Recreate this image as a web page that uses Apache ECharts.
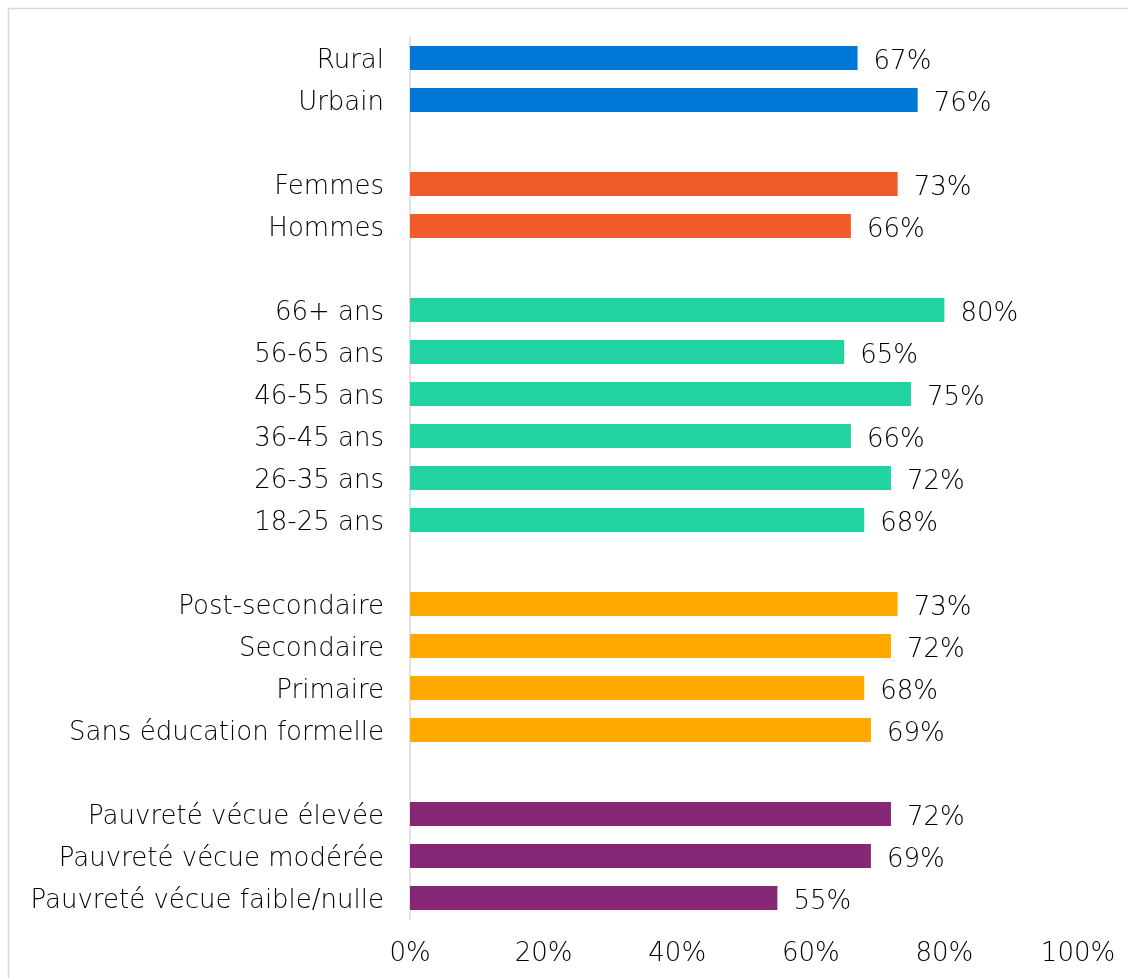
<!DOCTYPE html>
<html>
<head>
<meta charset="utf-8">
<script src="https://cdn.jsdelivr.net/npm/echarts@6/dist/echarts.min.js"></script>
<style>
  html, body { margin: 0; padding: 0; background: #fff; }
  #chart { width: 1128px; height: 978px; }
</style>
</head>
<body>
<div id="chart"></div>
<script>
// Share of respondents, by group (percent)
const milieuLabels = ['Rural', 'Urbain'];
const milieuValues = [67, 76];

const genreLabels = ['Femmes', 'Hommes'];
const genreValues = [73, 66];

const ageLabels = ['66+ ans', '56-65 ans', '46-55 ans', '36-45 ans', '26-35 ans', '18-25 ans'];
const ageValues = [80, 65, 75, 66, 72, 68];

const educationLabels = ['Post-secondaire', 'Secondaire', 'Primaire', 'Sans éducation formelle'];
const educationValues = [73, 72, 68, 69];

const pauvreteLabels = ['Pauvreté vécue élevée', 'Pauvreté vécue modérée', 'Pauvreté vécue faible/nulle'];
const pauvreteValues = [72, 69, 55];

const xTicks = [0, 20, 40, 60, 80, 100];

// Group colours, in the same order as the groups
const groupColors = ['#0078D7', '#F15A29', '#22D3A2', '#FFA800', '#862876'];

const groups = [
  [milieuLabels, milieuValues],
  [genreLabels, genreValues],
  [ageLabels, ageValues],
  [educationLabels, educationValues],
  [pauvreteLabels, pauvreteValues]
];

// Build the category list with an empty slot between groups
const categories = [];
const barData = [];
groups.forEach(([labels, values], gi) => {
  if (gi > 0) {
    categories.push(' '.repeat(gi));
    barData.push(null);
  }
  labels.forEach((lab, i) => {
    categories.push(lab);
    barData.push({ value: values[i], itemStyle: { color: groupColors[gi] } });
  });
});

const FONT = 'DejaVu Sans';
const FONT_SIZE = 26;
const TEXT_COLOR = '#000000';
const labelText = {
  fontSize: FONT_SIZE,
  fontWeight: 300,
  color: TEXT_COLOR,
  fontFamily: FONT
};

const chart = echarts.init(document.getElementById('chart'));
chart.setOption({
  animation: false,
  textStyle: { fontFamily: FONT },
  graphic: [{
    type: 'rect',
    shape: { x: 8.5, y: 8.5, width: 1140, height: 1000 },
    style: { fill: 'none', stroke: '#d9d9d9', lineWidth: 1.5 },
    silent: true
  }],
  grid: { left: 410, right: 50, top: 37, bottom: 59, containLabel: false },
  xAxis: {
    type: 'value',
    min: xTicks[0],
    max: xTicks[xTicks.length - 1],
    interval: xTicks[1] - xTicks[0],
    axisLine: { show: false },
    axisTick: { show: false },
    splitLine: { show: false },
    axisLabel: Object.assign({ formatter: '{value}%', margin: 22 }, labelText)
  },
  yAxis: {
    type: 'category',
    inverse: true,
    data: categories,
    axisLine: { show: true, lineStyle: { color: '#d9d9d9', width: 1.5 } },
    axisTick: { show: false },
    axisLabel: Object.assign({
      margin: 26,
      formatter: v => '{t|' + v + '}',
      rich: { t: Object.assign({ padding: [6, 0, 0, 0] }, labelText) }
    }, labelText)
  },
  series: [{
    type: 'bar',
    data: barData,
    barWidth: 24,
    label: Object.assign({
      show: true,
      position: 'right',
      distance: 16,
      offset: [0, 4],
      formatter: '{c}%'
    }, labelText)
  }]
});
</script>
</body>
</html>
